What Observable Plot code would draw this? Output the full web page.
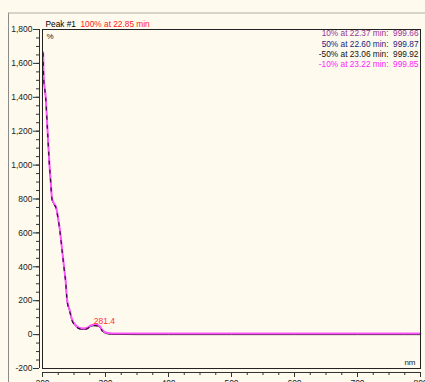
<!DOCTYPE html>
<html>
<head>
<meta charset="utf-8">
<script src="https://cdn.jsdelivr.net/npm/d3@7"></script>
<script src="https://cdn.jsdelivr.net/npm/@observablehq/plot@0.6"></script>
<style>
  html, body { margin: 0; padding: 0; background: #fefaee; width: 425px; height: 382px; overflow: hidden; }
  #wrap { position: relative; width: 425px; height: 382px; }
  #deco { position: absolute; left: 8px; top: 12px; right: 0; bottom: 0; border-top: 2px solid #d6d3cb; border-left: 1px solid #8a8a8a; }
  #chart { position: absolute; left: 0; top: 0; }
</style>
</head>
<body>
<div id="wrap"><div id="deco"></div><div id="chart"></div></div>
<script>
// Spectrum data (nm, %)
const wavelengths = [201, 202, 203, 205, 208, 211, 213, 215, 218, 222, 224, 228, 231, 234, 237, 239, 243, 247, 252, 258, 265, 270, 276, 280, 284, 288, 291, 295, 300, 305, 310, 350, 400, 450, 500, 550, 600, 650, 700, 750, 800];
const values =      [1660, 1500, 1465, 1400, 1200, 1000, 900, 800, 770, 740, 700, 600, 500, 400, 300, 200, 141, 82, 53, 35, 30, 33, 47, 52, 53, 50, 43, 20, 8, 3, 1, 0, 0, 0, 0, 0, 0, 0, 0, 0, 0];

const yMajorTicks = [-200, 0, 200, 400, 600, 800, 1000, 1200, 1400, 1600, 1800];
const yMinorTicks = d3.range(-200, 1801, 50);
const xMajorTicks = [200, 300, 400, 500, 600, 700, 800];
const xMinorTicks = d3.range(200, 801, 25);

const titleText = "Peak #1";
const titleRed = "100% at 22.85 min";
const legendLabels = ["10% at 22.37 min:  999.66", "50% at 22.60 min:  999.87", "-50% at 23.06 min:  999.92", "-10% at 23.22 min:  999.85"];
const legendColors = ["#993399", "#1a1a80", "#111111", "#ff22ff"];
const peakLabel = "281.4";
const peakX = 281.4;
const peakY = 53;
const yUnit = "%";
const xUnit = "nm";

const rows = wavelengths.map((w, i) => ({w, v: values[i]}));
const fmt = d => d.toLocaleString("en-US");

const chart = Plot.plot({
  width: 425,
  height: 382,
  marginLeft: 42,
  marginRight: 5,
  marginTop: 29,
  marginBottom: 14,
  style: {background: "transparent", fontFamily: "'Liberation Sans', Arial, sans-serif", fontSize: "8.5px", color: "#222"},
  x: {domain: [200, 800]},
  y: {domain: [-200, 1800]},
  marks: [
    Plot.ruleX([200], {dx: -3, stroke: "#333"}),
    Plot.ruleY([-200], {dy: 4, stroke: "#333"}),
    Plot.axisY(yMinorTicks, {tickSize: 3, dx: -3, tickFormat: () => "", label: null, stroke: "#333"}),
    Plot.axisY(yMajorTicks, {tickSize: 6, dx: -3, tickPadding: 1, tickFormat: fmt, label: null, stroke: "#333", fill: "#222"}),
    Plot.axisX(xMinorTicks, {tickSize: 3, dy: 4, tickFormat: () => "", label: null, stroke: "#333"}),
    Plot.axisX(xMajorTicks, {tickSize: 5, dy: 4, tickPadding: 2, tickFormat: fmt, label: null, stroke: "#333", fill: "#222"}),
    Plot.line(rows, {x: "w", y: "v", stroke: "#000000", strokeWidth: 1, curve: "monotone-x"}),
    Plot.line(rows, {x: "w", y: "v", dy: -1, stroke: "#ff55ff", strokeWidth: 2, curve: "monotone-x"}),
    Plot.line(rows.filter(d => d.w < 300), {x: "w", y: "v", stroke: "#3a0a40", strokeWidth: 1.2, strokeDasharray: "3,6", curve: "monotone-x"}),
    Plot.frame({stroke: "#222"}),
    Plot.text([titleText], {frameAnchor: "top-left", text: d => d, dx: 3, dy: -3, lineAnchor: "bottom", fill: "#000", fontSize: 8.3}),
    Plot.text([titleRed], {frameAnchor: "top-left", text: d => d, dx: 38, dy: -3, lineAnchor: "bottom", fill: "#ff2020", fontSize: 8.3}),
    ...legendLabels.map((t, i) => Plot.text([t], {frameAnchor: "top-right", text: d => d, dx: -2, dy: 1 + i * 10.2, lineAnchor: "top", textAnchor: "end", fill: legendColors[i], fontSize: 8.3})),
    Plot.text([yUnit], {frameAnchor: "top-left", text: d => d, dx: 4, dy: 4, lineAnchor: "top", fill: "#222", fontSize: 8}),
    Plot.text([xUnit], {frameAnchor: "bottom-right", text: d => d, dx: -5, dy: -4, lineAnchor: "bottom", textAnchor: "end", fill: "#222", fontSize: 8}),
    Plot.text([peakLabel], {x: () => peakX, y: () => peakY, text: d => d, textAnchor: "start", lineAnchor: "bottom", dy: -2, fill: "#ff3030", fontSize: 8.5})
  ]
});
document.getElementById("chart").appendChild(chart);
</script>
</body>
</html>
